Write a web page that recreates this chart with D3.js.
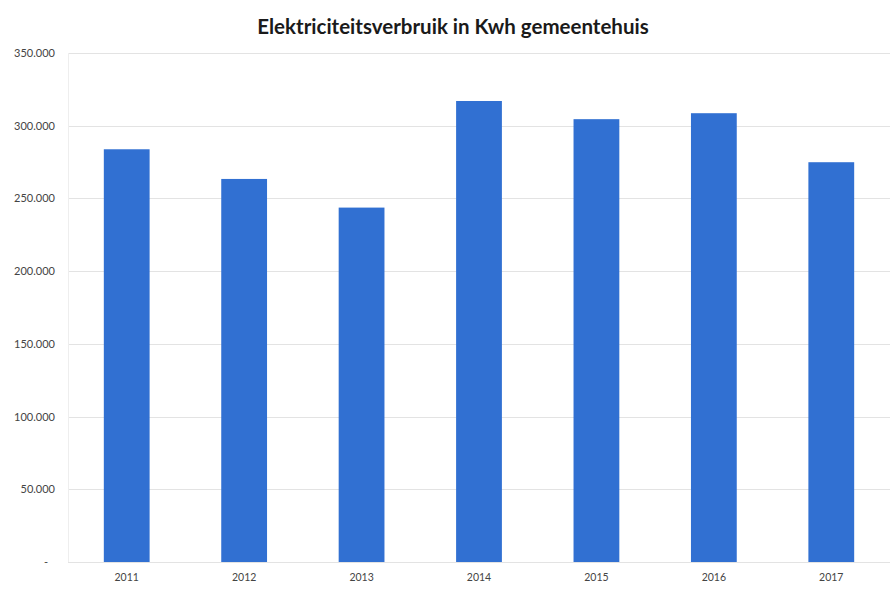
<meta charset="utf-8">
<title>Elektriciteitsverbruik</title>
<style>
  body { margin: 0; background: #fff; }
</style>
<body>
<script src="https://d3js.org/d3.v7.min.js"></script>
<script>

var width = 892;
var height = 589;
var margin = { top: 53, right: 2, bottom: 27, left: 68 };

// data
var years = ['2011', '2012', '2013', '2014', '2015', '2016', '2017'];
var kwh = [283800, 263400, 243700, 317000, 304500, 308600, 274900];
var yTicks = [0, 50000, 100000, 150000, 200000, 250000, 300000, 350000];

var nl = d3.formatLocale({ decimal: ',', thousands: '.', grouping: [3], currency: ['', ''] });
var fmt = nl.format(',.0f');

var svg = d3.select('body')
  .append('svg')
  .attr('width', width)
  .attr('height', height)
  .style('display', 'block');

var x = d3.scaleBand()
  .domain(years)
  .range([margin.left, width - margin.right])
  .paddingInner(0.61)
  .paddingOuter(0.305);

var y = d3.scaleLinear()
  .domain([0, 350000])
  .range([height - margin.bottom, margin.top]);

// gridlines
svg.append('g')
  .selectAll('line')
  .data(yTicks)
  .enter()
  .append('line')
  .attr('x1', margin.left)
  .attr('x2', width - margin.right)
  .attr('y1', function(d) { return Math.round(y(d)) + 0.5; })
  .attr('y2', function(d) { return Math.round(y(d)) + 0.5; })
  .style('stroke', '#e3e3e3')
  .style('stroke-width', 1);

// faint vertical axis
svg.append('line')
  .attr('x1', margin.left + 0.5).attr('x2', margin.left + 0.5)
  .attr('y1', y(350000)).attr('y2', y(0))
  .style('stroke', '#eeeeee');

// y axis labels
var yAxis = d3.axisLeft(y)
  .tickValues(yTicks)
  .tickSize(0)
  .tickPadding(13)
  .tickFormat(function(d) { return d === 0 ? '-' : fmt(d); });

svg.append('g')
  .attr('transform', 'translate(' + margin.left + ',0)')
  .call(yAxis)
  .call(function(g) { g.select('.domain').remove(); })
  .selectAll('text')
  .attr('dx', function(d) { return d === 0 ? -7 : 0; })
  .style('font-family', 'Lato, "Open Sans", sans-serif')
  .style('font-size', '11px')
  .style('fill', '#444');

// bars
svg.append('g')
  .selectAll('rect')
  .data(kwh)
  .enter()
  .append('rect')
  .attr('x', function(d, i) { return x(years[i]); })
  .attr('width', x.bandwidth())
  .attr('y', function(d) { return y(d); })
  .attr('height', function(d) { return y(0) - y(d); })
  .style('fill', '#3170d2');

// x axis labels
var xAxis = d3.axisBottom(x).tickSize(0).tickPadding(12);
svg.append('g')
  .attr('transform', 'translate(0,' + y(0) + ')')
  .call(xAxis)
  .call(function(g) { g.select('.domain').remove(); })
  .selectAll('text')
  .style('font-family', 'Lato, "Open Sans", sans-serif')
  .style('font-size', '10.5px')
  .style('fill', '#444');

// title
svg.append('text')
  .attr('x', 453)
  .attr('y', 34)
  .attr('text-anchor', 'middle')
  .style('font-family', 'Lato, "Open Sans", sans-serif')
  .style('font-weight', 'bold')
  .style('font-size', '20.5px')
  .style('fill', '#1a1a1a')
  .text('Elektriciteitsverbruik in Kwh gemeentehuis');

</script>
</body>
